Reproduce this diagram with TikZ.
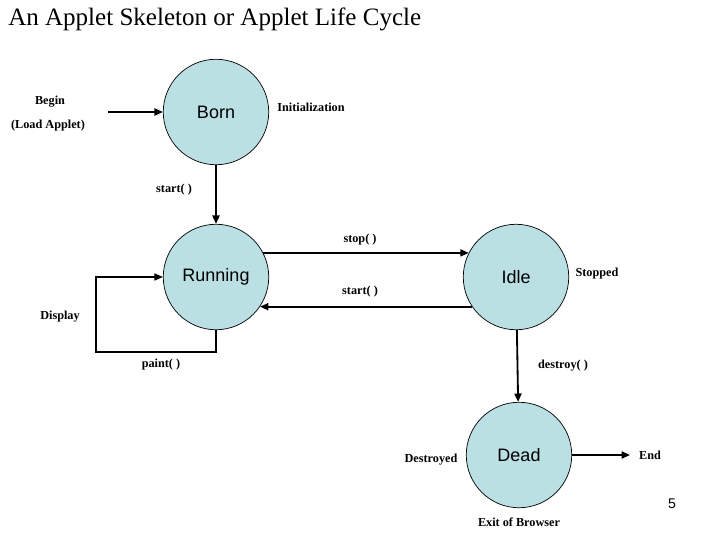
\documentclass[tikz,border=0pt]{standalone}
\usepackage{fontspec}
\setmainfont{Liberation Serif}
\setsansfont{Liberation Sans}
\usepackage{tikz}
\usetikzlibrary{arrows.meta}
\definecolor{statefill}{HTML}{BBE0E3}
\tikzstyle{state}=[circle, draw, fill=statefill, line width=0.5pt, minimum size=75pt, inner sep=0pt, font=\sffamily\fontsize{12.8}{14}\selectfont]
\tikzstyle{note}=[inner sep=0pt, font=\fontsize{8.7}{10}\selectfont\bfseries]
\tikzstyle{flow}=[line width=1.3pt, -{Triangle[length=6pt,width=5pt]}]

\begin{document}
\begin{tikzpicture}[x=0.025cm, y=-0.025cm]
		   \useasboundingbox (0,0) rectangle (720,540);
		   \node (title) at (8, 19)[anchor=west, inner sep=0pt, font=\fontsize{17.8}{20}\selectfont] {An Applet Skeleton or Applet Life Cycle};
		   \begin{scope}
			   \node (born) at (216, 112)[state] {Born};
			   \node (run) at (216, 277)[state] {Running};
			   \node (idle) at (516, 277)[state] {Idle};
			   \node (dead) at (519, 455)[state] {Dead};
		   \end{scope}
		   \begin{scope}
			   \node (begin) at (50, 102)[note] {Begin};
			   \node (load) at (48, 126)[note] {(Load Applet)};
			   \node (init) at (311, 107)[note] {Initialization};
			   \node (start1) at (174, 190)[note] {start( )};
			   \node (stop) at (360, 240)[note] {stop( )};
			   \node (start2) at (360, 292)[note] {start( )};
			   \node (stopped) at (597, 274)[note] {Stopped};
			   \node (display) at (60, 317)[note] {Display};
			   \node (paint) at (161, 365)[note] {paint( )};
			   \node (destroy) at (563, 366)[note] {destroy( )};
			   \node (destroyed) at (431, 460)[note] {Destroyed};
			   \node (exit) at (519, 522)[note] {Exit of Browser};
			   \node (page) at (672, 504)[inner sep=0pt, font=\sffamily\fontsize{10}{12}\selectfont] {5};
		   \end{scope}
		   \begin{scope}
			   \coordinate (in) at (108, 112);
			   \coordinate (out) at (630, 455);
			   \coordinate (p1) at (216, 352);
			   \coordinate (p2) at (96, 352);
			   \coordinate (p3) at (96, 277);
			   \node (end) at (650, 455)[note] {End};
		   \end{scope}
		   \begin{scope}
			   \path [flow] (in) edge (born);
			   \path [flow] (born) edge (run);
			   \path [flow] (run.27) edge (idle.153);
			   \path [flow] (idle.-146) edge (run.-34);
			   \path [flow] (idle) edge (dead);
			   \path [flow] (dead) edge (out);
			   \draw [line width=0.8pt, -{Triangle[length=6pt,width=5pt]}] (run.south) -- (p1) -- (p2) -- (p3) -- (run.west);
		   \end{scope}
	   \end{tikzpicture}
\end{document}
